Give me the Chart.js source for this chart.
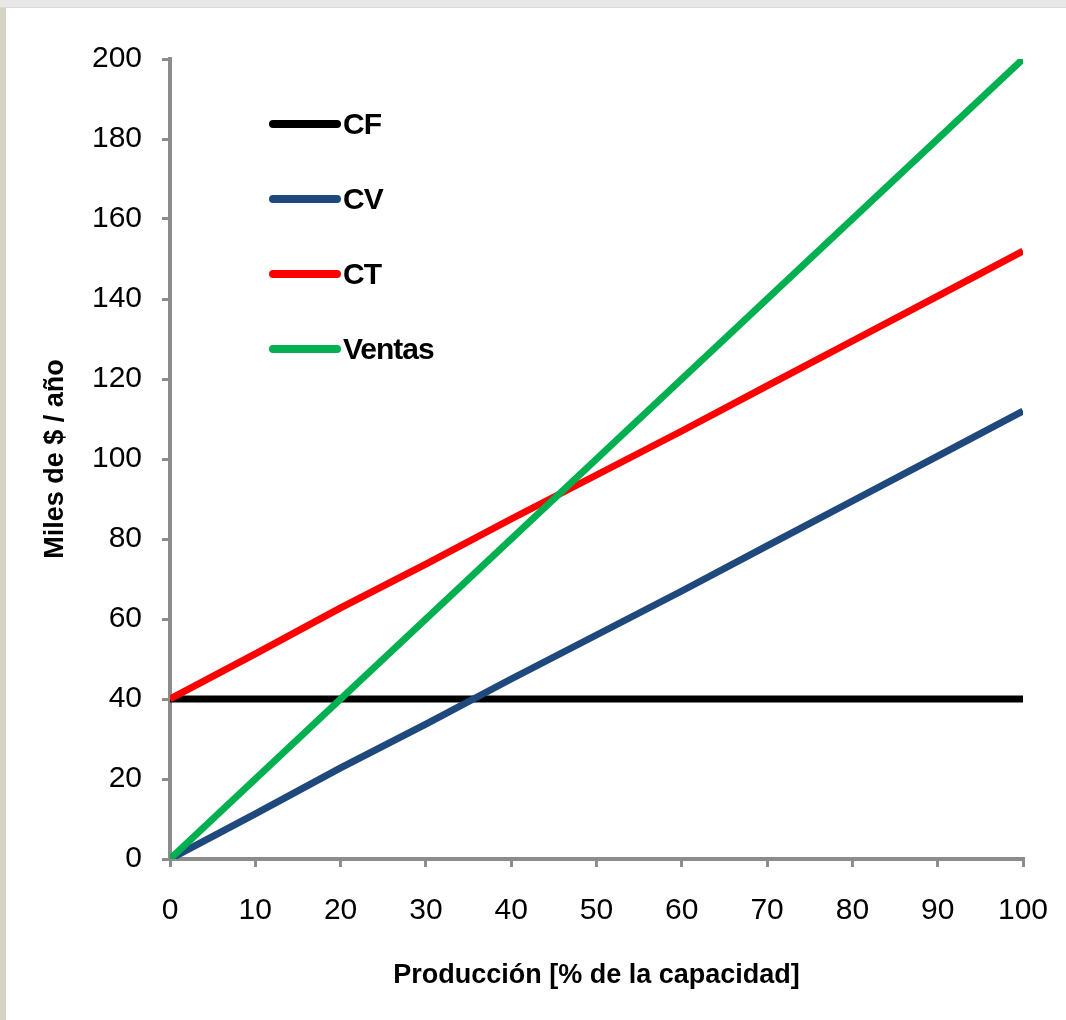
<!DOCTYPE html>
<html>
<head>
<meta charset="utf-8">
<script src="https://cdn.jsdelivr.net/npm/chart.js@4"></script>
<style>
  html, body { margin: 0; padding: 0; background: #ffffff; }
  #wrap { position: relative; width: 1066px; height: 1020px; overflow: hidden; }
  #topStrip { position: absolute; left: 0; top: 0; width: 1066px; height: 7px; background: #e8e8e8; border-bottom: 1px solid #dcdcdc; }
  #leftStrip { position: absolute; left: 0; top: 8px; width: 6px; height: 1012px; background: #d5d3c3; }
  canvas { position: absolute; left: 0; top: 0; }
</style>
</head>
<body>
<div id="wrap">
  <canvas id="c" width="1066" height="1020"></canvas>
  <div id="topStrip"></div>
  <div id="leftStrip"></div>
</div>
<script>
// ---- data ----
const produccion = [0, 10, 20, 30, 40, 50, 60, 70, 80, 90, 100];
const cf     = [40, 40, 40, 40, 40, 40, 40, 40, 40, 40, 40];
const cv     = [0, 11.3, 22.8, 33.7, 45, 56, 67, 78.3, 89.5, 100.7, 112];
const ct     = [40, 51.3, 62.8, 73.7, 85, 96, 107, 118.3, 129.5, 140.7, 152];
const ventas = [0, 20, 40, 60, 80, 100, 120, 140, 160, 180, 200];
const seriesNames = ['CF', 'CV', 'CT', 'Ventas'];
const xTitle = 'Producción [% de la capacidad]';
const yTitle = 'Miles de $ / año';

const colors = ['#000000', '#1f497d', '#ff0000', '#00b050'];
const seriesValues = [cf, cv, ct, ventas];
const FONT = '"Liberation Sans", Arial, sans-serif';
const AXIS = '#8c8c8c';

const datasets = seriesNames.map((name, i) => ({
  label: name,
  data: produccion.map((x, j) => ({ x: x, y: seriesValues[i][j] })),
  borderColor: colors[i],
  backgroundColor: colors[i],
  borderWidth: 7,
  pointRadius: 0,
  pointHoverRadius: 0,
  tension: 0,
  fill: false,
  order: seriesNames.length - i
}));

const legendPlugin = {
  id: 'customLegend',
  afterDraw(chart) {
    const ctx = chart.ctx;
    ctx.save();
    chart.data.datasets.forEach((ds, i) => {
      const y = 124 + i * 75;
      ctx.beginPath();
      ctx.lineCap = 'round';
      ctx.lineWidth = 8;
      ctx.strokeStyle = ds.borderColor;
      ctx.moveTo(273, y);
      ctx.lineTo(337, y);
      ctx.stroke();
      ctx.fillStyle = '#000';
      ctx.font = 'bold 30px ' + FONT;
      ctx.textAlign = 'left';
      ctx.textBaseline = 'middle';
      try { ctx.letterSpacing = '-1px'; } catch (e) {}
      ctx.fillText(ds.label, 343, y + 2);
    });
    ctx.restore();
  }
};

new Chart(document.getElementById('c'), {
  type: 'line',
  data: { datasets: datasets },
  options: {
    responsive: false,
    animation: false,
    events: [],
    layout: { padding: { top: 59, right: 43, left: 0, bottom: 0 } },
    plugins: { legend: { display: false }, tooltip: { enabled: false } },
    scales: {
      x: {
        type: 'linear',
        min: 0, max: 100,
        ticks: { stepSize: 10, color: '#000', font: { family: FONT, size: 30 }, padding: 26, maxRotation: 0 },
        grid: { drawOnChartArea: false, drawTicks: true, tickLength: 8, color: AXIS, lineWidth: 3 },
        border: { display: true, color: AXIS, width: 4 },
        title: { display: true, text: xTitle, color: '#000', font: { family: FONT, size: 27, weight: 'bold' }, padding: { top: 0, bottom: 28 } },
        afterFit(scale) { scale.height = 161; scale.paddingLeft = 0; scale.paddingRight = 0; }
      },
      y: {
        type: 'linear',
        min: 0, max: 200,
        ticks: { stepSize: 20, color: '#000', font: { family: FONT, size: 30 }, padding: 20 },
        grid: { drawOnChartArea: false, drawTicks: true, tickLength: 8, color: AXIS, lineWidth: 3 },
        border: { display: true, color: AXIS, width: 4 },
        title: { display: true, text: yTitle, color: '#000', font: { family: FONT, size: 27, weight: 'bold' }, padding: { top: 39, bottom: 0 } },
        afterFit(scale) { scale.width = 170; scale.paddingTop = 0; scale.paddingBottom = 0; }
      }
    }
  },
  plugins: [legendPlugin]
});
</script>
</body>
</html>
